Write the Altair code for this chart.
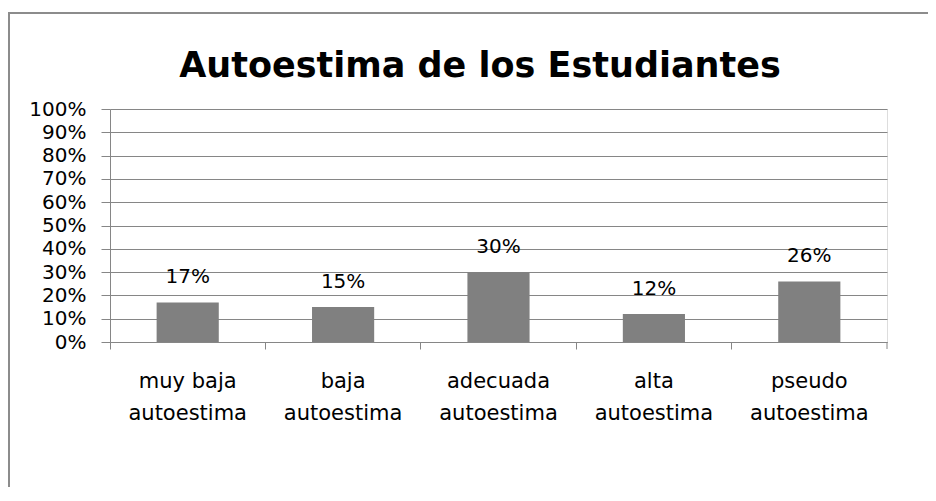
import altair as alt
import pandas as pd

categories = ["muy baja autoestima", "baja autoestima", "adecuada autoestima",
              "alta autoestima", "pseudo autoestima"]
values = [0.17, 0.15, 0.30, 0.12, 0.26]
labels = ["17%", "15%", "30%", "12%", "26%"]
y_ticks = [0.0, 0.1, 0.2, 0.3, 0.4, 0.5, 0.6, 0.7, 0.8, 0.9, 1.0]
title_text = "Autoestima de los Estudiantes"

df = pd.DataFrame({"cat": categories, "val": values, "lab": labels})

W, H = 777, 233
GREY = "#868686"
FONT = "DejaVu Sans"

x_enc = alt.X(
    "cat:N", sort=categories, title=None,
    scale=alt.Scale(paddingInner=0, paddingOuter=0),
    axis=alt.Axis(
        bandPosition=0, grid=False, ticks=True, tickSize=7, tickColor=GREY,
        domainColor=GREY, labelAngle=0, labelFont=FONT, labelFontSize=21,
        labelColor="black", labelPadding=21, labelLineHeight=32,
        labelBaseline="top",
        labelExpr="[replace(datum.label, ' autoestima', ''), 'autoestima']",
    ),
)
y_axis = alt.Axis(
    values=y_ticks, tickCount=30, format=".0%", grid=True, gridColor=GREY,
    tickColor=GREY, tickSize=9, domainColor=GREY, labelFont=FONT,
    labelFontSize=20, labelColor="black", labelPadding=15,
    labelOverlap=False, labelBound=False, labelFlush=False,
)
y_enc = alt.Y("val:Q", title=None,
              scale=alt.Scale(domain=[0, 1], nice=False), axis=y_axis)

bars = alt.Chart(df).mark_bar(
    color="#808080", width=alt.RelativeBandSize(0.4)
).encode(x=x_enc, y=y_enc)

text = alt.Chart(df).mark_text(
    font=FONT, fontSize=20, color="black", baseline="alphabetic", dy=-19
).encode(x=x_enc, y=y_enc, text="lab:N")

one = pd.DataFrame({"a": [0]})

end_tick = alt.Chart(one).mark_rule(
    color=GREY, strokeWidth=1
).encode(x=alt.value(W), y=alt.value(H), y2=alt.value(H + 7))

border = alt.Chart(one).mark_rect(
    fill=None, stroke="#8c8c8c", strokeWidth=2, clip=False
).encode(x=alt.value(-101), x2=alt.value(900), y=alt.value(-96), y2=alt.value(500))

title = alt.Chart(one).mark_text(
    font=FONT, fontSize=35, fontWeight="bold", color="black",
    align="center", baseline="alphabetic"
).encode(x=alt.value(370), y=alt.value(-32), text=alt.value(title_text))

chart = alt.layer(border, bars, text, end_tick, title).properties(
    width=W, height=H,
    autosize=alt.AutoSizeParams(type="none"),
    padding={"left": 102, "top": 101, "right": 41, "bottom": 145},
).configure_view(stroke=None).configure(background="white")

chart.save("out.html", embed_options={"renderer": "svg", "actions": False})
